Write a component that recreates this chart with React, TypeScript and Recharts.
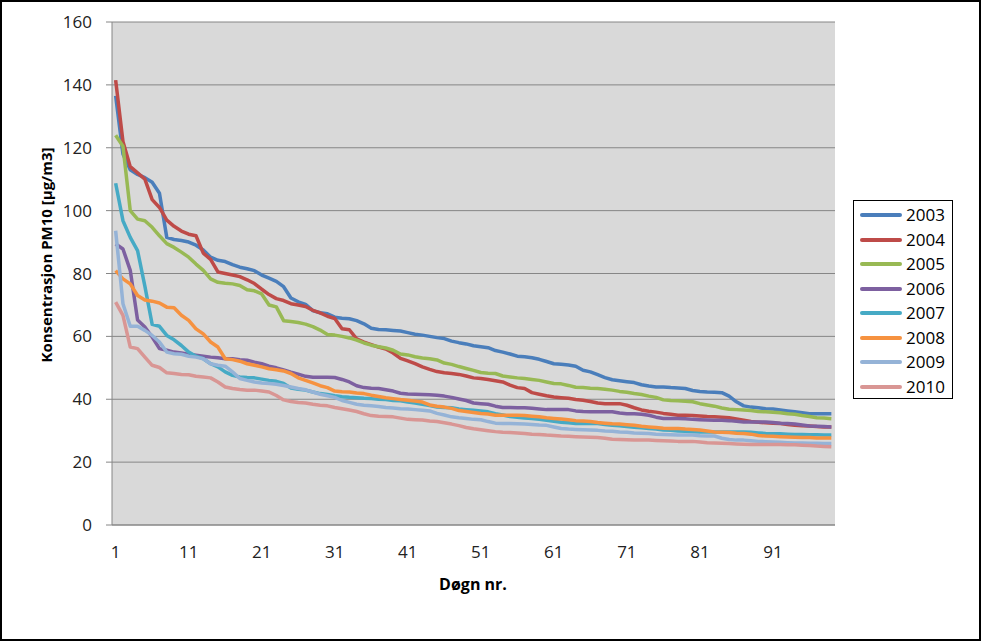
import React from "react";
import {
  LineChart,
  Line,
  XAxis,
  YAxis,
  CartesianGrid,
  Legend,
} from "recharts";

const years = ["2003", "2004", "2005", "2006", "2007", "2008", "2009", "2010"];
const colors = ["#4A7EBB", "#BE4B48", "#98B954", "#7D60A0", "#46AAC5", "#F69240", "#95B3D7", "#D99694"];

const y2003 = [136.5,118,113,111.5,110.5,109,105.5,91.5,90.8,90.5, 90,89,87.5,85.2,84.2,83.8,82.8,82,81.5,80.9, 79.5,78.5,77.5,75.8,72.2,71,70.2,68.2,67.5,67.2, 66.1,65.8,65.6,65,64,62.6,62.2,62.1,61.9,61.7, 61.2,60.7,60.4,60,59.6,59.3,58.5,58,57.6,57, 56.7,56.4,55.5,55,54.4,53.7,53.5,53.2,52.7,52, 51.3,51.1,50.9,50.5,49.2,48.7,47.8,46.9,46.2,45.9, 45.6,45.3,44.6,44.2,43.9,43.9,43.7,43.6,43.4,42.8, 42.5,42.3,42.2,42.1,41,39.2,37.9,37.5,37.3,37, 36.9,36.6,36.3,36,35.7,35.4,35.4,35.4,35.4];
const y2004 = [141.5,122,114,112,110,103.5,101,97,95,93.5, 92.5,92,86.5,84.5,80.5,80,79.5,79,78,76.8, 75,73.3,72,71.4,70.4,70,69.5,68.3,67.5,66.4, 65.7,62.4,62.1,59.2,58.2,57.4,56.6,56,54.7,53, 52.2,51.3,50.3,49.5,48.8,48.4,48.2,47.9,47.4,46.8, 46.6,46.3,45.9,45.5,44.5,43.7,43.4,42.1,41.6,41.1, 40.7,40.5,40.3,39.9,39.7,39.3,38.8,38.6,38.6,38.6, 38.1,37.3,36.6,36.2,35.9,35.5,35.2,34.9,34.9,34.8, 34.7,34.5,34.4,34.3,34.1,33.7,33.3,32.9,32.7,32.5, 32.4,32.3,32,31.7,31.6,31.5,31.3,31.2,31.2];
const y2005 = [124,120.5,100,97.3,96.8,94.7,92,89.5,88.3,86.8, 85.2,83,81,78.3,77.2,76.9,76.7,76.2,74.8,74.5, 73.5,70,69.4,65,64.7,64.4,63.9,63.1,62,60.6, 60.4,60,59.5,58.8,57.9,57.2,56.7,56.3,55.6,54.4, 54.1,53.5,53.1,52.9,52.5,51.5,51.1,50.4,49.8,49.2, 48.5,48.3,48.2,47.4,47.1,46.8,46.6,46.3,46,45.5, 45,44.9,44.4,43.8,43.7,43.5,43.4,43.2,42.9,42.5, 42.2,41.8,41.5,41,40.6,39.8,39.6,39.5,39.4,39.2, 38.6,38.2,37.8,37.2,36.8,36.7,36.6,36.4,36.1,36, 35.9,35.7,35.4,35.2,34.8,34.5,34.1,34,33.8];
const y2006 = [89.4,87.8,81,65.2,63,59.8,56.1,55.6,55,54.7, 54.3,54,53.7,53.4,53.2,52.9,52.9,52.6,52.4,51.8, 51.3,50.5,50,49.3,48.6,48,47.3,47,47,47, 46.9,46.3,45.5,44.3,43.7,43.5,43.4,43,42.6,41.9, 41.7,41.6,41.5,41.4,41.3,41,40.6,40.1,39.6,38.8, 38.6,38.4,37.8,37.4,37.4,37.3,37.3,37.1,36.9,36.7, 36.7,36.7,36.7,36.3,36.1,36,36,36,36,35.6, 35.4,35.4,35.2,34.9,34.3,33.9,33.9,33.9,33.8,33.6, 33.5,33.4,33.3,33.3,33.2,33,32.8,32.8,32.8,32.8, 32.6,32.4,32.3,32.1,31.8,31.5,31.4,31.3,31.2];
const y2007 = [108.7,96.8,91.5,87.3,76,63.8,63.2,60.3,58.9,57.1, 55,53.7,52.9,51.3,50.3,48.7,47.6,47.1,46.9,46.8, 46.4,46,45.7,45,43.6,43.2,42.9,42.3,41.8,41.5, 41.1,40.8,40.6,40.5,40.3,40.2,40,39.9,39.6,39.5, 39.1,38.8,38.4,38,37.5,37.4,37.3,36.9,36.7,36.5, 36.3,36,35.4,35,34.5,34.3,34,33.9,33.6,33.3, 33,32.7,32.5,32.3,32.3,32.3,32.3,32,31.7,31.6, 31.3,31.1,30.9,30.7,30.5,30.2,30.1,29.9,29.8,29.7, 29.6,29.6,29.6,29.6,29.6,29.6,29.6,29.5,29.3,29.1, 29,29,28.9,28.8,28.8,28.7,28.7,28.6,28.6];
const y2008 = [80.9,78.3,76.7,73,71.6,71.2,70.6,69.3,69.1,66.7, 65.1,62.4,60.8,58.2,56.6,52.9,52.6,52.1,51.3,50.8, 50.3,49.7,49.4,49,48.2,46.8,46,45.2,44.3,43.7, 42.6,42.4,42.3,42,41.8,41.3,40.9,40.5,40.2,39.9, 39.7,39.4,39.1,38.2,37.8,37.5,37.1,36.4,36.1,35.8, 35.5,35.3,34.9,34.9,34.9,34.9,34.8,34.6,34.4,34.1, 33.9,33.7,33.5,33.2,33.1,32.9,32.6,32.4,32.2,32.1, 31.9,31.7,31.4,31.2,31,30.8,30.7,30.7,30.5,30.4, 30.2,29.9,29.6,29.5,29.4,29.2,29.1,28.9,28.5,28.3, 28.2,28.1,28,27.9,27.8,27.8,27.7,27.7,27.7];
const y2009 = [93.6,70.4,63.2,63.2,61.9,60.3,58.2,55,54.5,54.3, 53.7,53.4,52.9,51.3,50.8,50.5,48.7,46.6,46,45.5, 45.2,45,44.8,44.4,43.9,43.4,43,42.3,41.6,41.1, 40.6,39.6,39,38.4,38.1,37.9,37.7,37.4,37.2,37, 36.9,36.7,36.5,36.3,35.5,35,34.4,34.1,33.9,33.6, 33.5,32.9,32.4,32.3,32.3,32.2,32.1,32,31.8,31.7, 31.2,30.7,30.5,30.4,30.3,30.2,30.1,29.9,29.8,29.6, 29.5,29.3,29.2,29.1,28.9,28.8,28.7,28.6,28.6,28.6, 28.4,28.3,28.3,27.6,27.2,27,27,26.8,26.6,26.5, 26.4,26.3,26.2,26.1,26.1,26,26,25.9,25.9];
const y2010 = [70.9,66.7,56.6,56.1,53.4,50.8,50.1,48.4,48.2,47.9, 47.8,47.3,47.1,46.8,45.5,43.9,43.4,43.1,42.9,42.9, 42.6,42.3,41.2,39.8,39.3,39,38.8,38.4,38.1,37.9, 37.4,37,36.6,36.1,35.4,34.8,34.6,34.5,34.4,34, 33.6,33.5,33.4,33.1,32.9,32.5,32.1,31.6,31,30.6, 30.3,30,29.7,29.5,29.4,29.3,29.1,28.9,28.8,28.6, 28.5,28.3,28.2,28.1,28,27.9,27.8,27.6,27.3,27.2, 27.1,27,27,27,26.9,26.8,26.7,26.6,26.6,26.6, 26.4,26.2,26.1,26,25.9,25.8,25.7,25.6,25.6,25.6, 25.6,25.6,25.5,25.5,25.4,25.3,25.1,25,24.9];

const yTicks = [0, 20, 40, 60, 80, 100, 120, 140, 160];

const series = [y2003, y2004, y2005, y2006, y2007, y2008, y2009, y2010];
const days = y2003.map((_, i) => i + 1);

const data = days.map((day, i) => {
  const row: Record<string, number> = { day };
  years.forEach((yr, k) => {
    row[yr] = series[k][i];
  });
  return row;
});

const FONT = "'Open Sans', sans-serif";

function LegendBox({ payload }: any) {
  return (
    <div
      style={{
        width: 100,
        height: 199,
        boxSizing: "border-box",
        border: "1px solid #000",
        background: "#fff",
        paddingTop: 2,
        fontFamily: FONT,
        fontSize: 17,
        color: "#000",
      }}
    >
      {(payload || []).map((p: any) => (
        <div key={p.value} style={{ height: 24.5, display: "flex", alignItems: "center" }}>
          <svg width={52} height={8} style={{ display: "block" }}>
            <line x1={8} x2={46} y1={4} y2={4} stroke={p.color} strokeWidth={4} strokeLinecap="round" />
          </svg>
          <span style={{ lineHeight: "24px" }}>{p.value}</span>
        </div>
      ))}
    </div>
  );
}

export default function App() {
  return (
    <div style={{ position: "absolute", left: 0, top: 0, width: 981, height: 641, background: "#fff" }}>
      <LineChart
        width={981}
        height={641}
        data={data}
        margin={{ top: 22, right: 146, bottom: 0, left: 0 }}
        style={{ fontFamily: FONT }}
      >
        <CartesianGrid vertical={false} stroke="#868686" fill="#D9D9D9" fillOpacity={1} />
        <XAxis
          dataKey="day"
          type="category"
          interval={9}
          height={116}
          padding={{ left: 3.65, right: 3.65 }}
          tickLine={false}
          tickSize={6}
          tickMargin={15}
          stroke="#868686"
          tick={{ fill: "#222", fontSize: 17 }}
          label={{
            content: () => (
              <text x={473} y={586} textAnchor="middle" dominantBaseline="middle" fontFamily={FONT} fontSize={16} fontWeight="bold" fill="#000">
                Døgn nr.
              </text>
            ),
          }}
        />
        <YAxis
          width={112}
          domain={[0, 160]}
          ticks={yTicks}
          tickSize={6}
          tickMargin={14}
          stroke="#868686"
          tick={{ fill: "#222", fontSize: 17 }}
          label={{
            content: () => (
              <text x={48} y={255} transform="rotate(-90 48 255)" textAnchor="middle" dominantBaseline="middle" fontFamily={FONT} fontSize={15} fontWeight="bold" fill="#000">
                Konsentrasjon PM10 [µg/m3]
              </text>
            ),
          }}
        />
        <Legend
          layout="vertical"
          align="center"
          verticalAlign="middle"
          content={<LegendBox />}
          wrapperStyle={{ left: 853, top: 200, width: 100, height: 199 }}
        />
        {years.map((yr, k) => (
          <Line
            key={yr}
            type="linear"
            dataKey={yr}
            name={yr}
            stroke={colors[k]}
            strokeWidth={3.5}
            strokeLinejoin="round"
            dot={false}
            activeDot={false}
            isAnimationActive={false}
          />
        ))}
      </LineChart>
      <div
        style={{
          position: "absolute",
          left: 0,
          top: 0,
          width: 981,
          height: 641,
          boxSizing: "border-box",
          border: "2px solid #000",
          pointerEvents: "none",
        }}
      />
    </div>
  );
}
